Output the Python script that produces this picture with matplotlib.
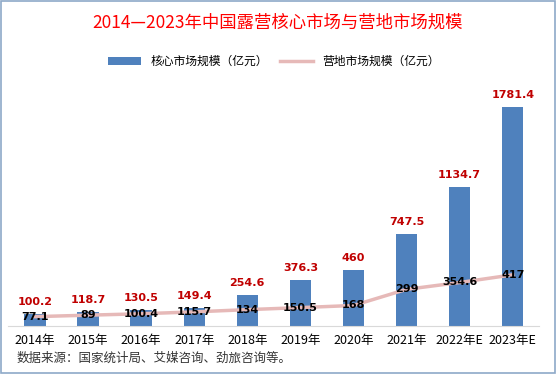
import numpy as np
import matplotlib.pyplot as plt
from matplotlib.patches import Rectangle

plt.rcParams['font.family'] = ['Noto Sans CJK SC', 'DejaVu Sans']

years = ['2014年', '2015年', '2016年', '2017年', '2018年',
         '2019年', '2020年', '2021年', '2022年E', '2023年E']
core = [100.2, 118.7, 130.5, 149.4, 254.6, 376.3, 460, 747.5, 1134.7, 1781.4]
camp = [77.1, 89, 100.4, 115.7, 134, 150.5, 168, 299, 354.6, 417]
core_labels = ['100.2', '118.7', '130.5', '149.4', '254.6', '376.3', '460', '747.5', '1134.7', '1781.4']
camp_labels = ['77.1', '89', '100.4', '115.7', '134', '150.5', '168', '299', '354.6', '417']

fig = plt.figure(figsize=(5.56, 3.74), dpi=100)
ax = fig.add_axes([0.015, 0.128, 0.955, 0.658])

x = np.arange(len(years))
bars = ax.bar(x, core, width=0.4, color='#4f81bd', label='核心市场规模（亿元）', zorder=2)
line, = ax.plot(x, camp, color='#e6b9b8', lw=2.5, label='营地市场规模（亿元）', zorder=3)

for i in range(len(x)):
    ax.text(x[i], core[i] + 55, core_labels[i], ha='center', va='bottom',
            color='#c00000', fontsize=8, fontweight='bold', family='DejaVu Sans')
    ax.text(x[i], camp[i], camp_labels[i], ha='center', va='center',
            color='black', fontsize=8, fontweight='bold', family='DejaVu Sans', zorder=4)

ax.set_xlim(-0.5, len(x) - 0.5)
ax.set_ylim(0, 2000)
ax.set_yticks([])
ax.set_xticks(x)
ax.set_xticklabels(years, fontsize=9)
ax.tick_params(axis='x', length=0, pad=6)
for s in ['top', 'right', 'left']:
    ax.spines[s].set_visible(False)
ax.spines['bottom'].set_color('#d9d9d9')

fig.text(0.5, 0.94, '2014—2023年中国露营核心市场与营地市场规模', ha='center', va='center',
         color='#ff0000', fontsize=12.5)
ax.legend([bars, line], ['核心市场规模（亿元）', '营地市场规模（亿元）'],
          loc='center', bbox_to_anchor=(0.5, 1.075), ncol=2, frameon=False,
          fontsize=8.5, handlelength=2.8, handleheight=0.6, columnspacing=1.0)
fig.text(0.03, 0.043, '数据来源：国家统计局、艾媒咨询、劲旅咨询等。', ha='left', va='center',
         fontsize=9, color='#333333')

fig.patches.append(Rectangle((0.002, 0.003), 0.996, 0.994, transform=fig.transFigure,
                             fill=False, edgecolor='#8ea9c8', lw=1.2))

fig.savefig('out.png', dpi=100)
